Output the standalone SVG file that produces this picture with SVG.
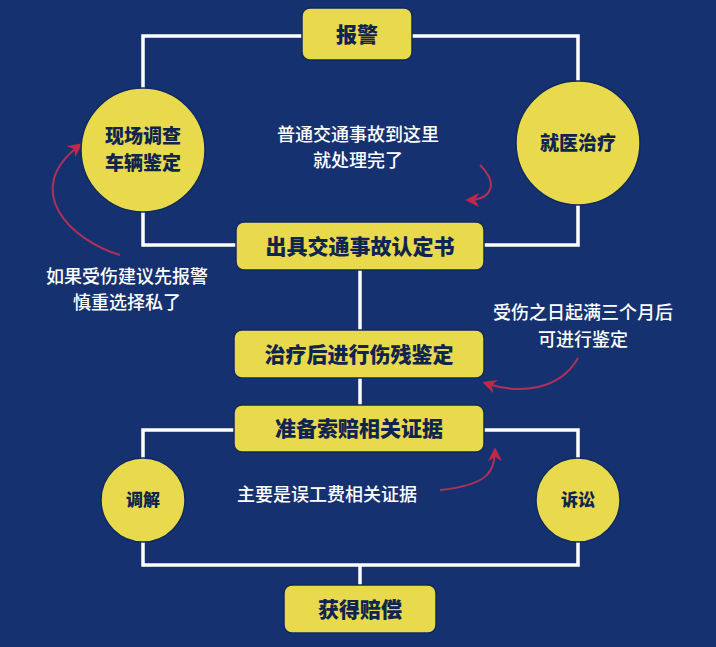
<svg xmlns="http://www.w3.org/2000/svg" width="716" height="647" viewBox="0 0 716 647">
<defs>
<style>
.box{fill:#e8da4c;stroke:#0f2a5e;stroke-width:1.5}
.bt{font-family:"Noto Sans CJK SC",sans-serif;font-weight:900;fill:#0f2550;text-anchor:middle}
.wt{font-family:"Noto Sans CJK SC",sans-serif;font-size:18px;font-weight:500;fill:#ffffff;text-anchor:middle}
.ln{stroke:#ffffff;stroke-width:3.5;fill:none}
.ar{stroke:#b03058;stroke-width:2;fill:none;marker-end:url(#ah)}
</style>
<marker id="ah" viewBox="0 0 10 10" refX="8" refY="5" markerWidth="7" markerHeight="7" orient="auto"><path d="M0,0 L10,5 L0,10 L3,5 Z" fill="#c02848"/></marker>
</defs>
<rect width="716" height="647" fill="#16316f"/>
<g id="connectors">
<path class="ln" d="M143,90 V36 H578 V82"/>
<path class="ln" d="M143,212 V245 H578 V205"/>
<path class="ln" d="M360,270 V330 M360,378 V405 M360,565 V585"/>
<path class="ln" d="M143,458 V430 H578 V458 M143,542 V565 H578 V542"/>
<path class="ar" d="M480,165 C500,185 490,200 468,200"/>
<path class="ar" d="M120,255 C70,240 20,190 80,145"/>
<path class="ar" d="M578,358 C560,390 520,395 485,383"/>
<path class="ar" d="M440,490 C490,485 495,470 495,450"/>
</g>
<g id="n1"><rect class="box" x="302" y="8" width="110" height="52" rx="8"/><text class="bt" x="357" y="42" font-size="21">报警</text></g>
<g id="n2"><circle class="box" cx="143" cy="150" r="62"/><text class="bt" x="143" y="143" font-size="19">现场调查</text><text class="bt" x="143" y="170" font-size="19">车辆鉴定</text></g>
<g id="n3"><circle class="box" cx="578" cy="143" r="62"/><text class="bt" x="578" y="150" font-size="19">就医治疗</text></g>
<g id="n4"><rect class="box" x="236" y="222" width="248" height="48" rx="8"/><text class="bt" x="360" y="254" font-size="21">出具交通事故认定书</text></g>
<g id="n5"><rect class="box" x="234" y="330" width="250" height="48" rx="8"/><text class="bt" x="359" y="362" font-size="21">治疗后进行伤残鉴定</text></g>
<g id="n6"><rect class="box" x="234" y="405" width="250" height="47" rx="8"/><text class="bt" x="359" y="436" font-size="21">准备索赔相关证据</text></g>
<g id="n7"><circle class="box" cx="143" cy="500" r="42"/><text class="bt" x="143" y="506" font-size="17">调解</text></g>
<g id="n8"><circle class="box" cx="578" cy="500" r="42"/><text class="bt" x="578" y="506" font-size="17">诉讼</text></g>
<g id="n9"><rect class="box" x="284" y="585" width="152" height="48" rx="8"/><text class="bt" x="360" y="617" font-size="21">获得赔偿</text></g>
<g id="notes">
<text class="wt" x="358" y="141">普通交通事故到这里</text>
<text class="wt" x="358" y="167">就处理完了</text>
<text class="wt" x="127" y="283">如果受伤建议先报警</text>
<text class="wt" x="127" y="309">慎重选择私了</text>
<text class="wt" x="583" y="319">受伤之日起满三个月后</text>
<text class="wt" x="583" y="346">可进行鉴定</text>
<text class="wt" x="327" y="501">主要是误工费相关证据</text>
</g>
</svg>
